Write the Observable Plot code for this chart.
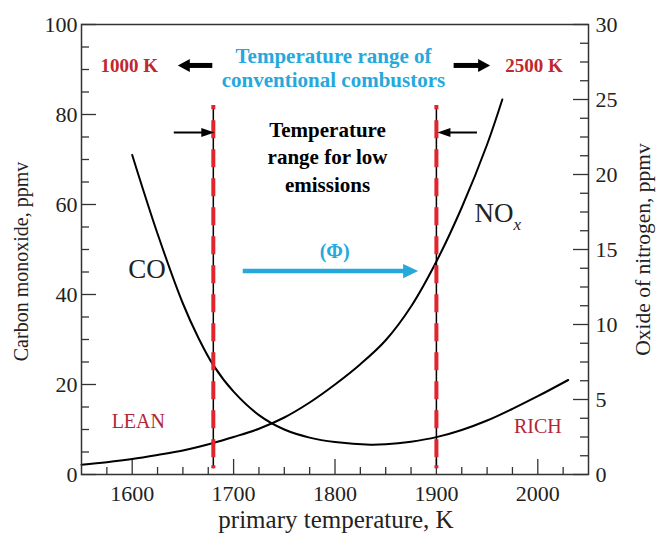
<!DOCTYPE html>
<html><head><meta charset="utf-8">
<script src="https://cdn.jsdelivr.net/npm/d3@7"></script>
<script src="https://cdn.jsdelivr.net/npm/@observablehq/plot@0.6"></script>
<style>
html,body{margin:0;padding:0;background:#fff;}
#chart{width:656px;height:537px;overflow:hidden;}
</style></head><body><div id="chart"></div>
<script>
// ---- data ----
const coTemps = [1600,1625,1650,1665,1680,1700,1725,1750,1775,1800,1835,1850,1875,1900,1925,1950,1975,2000,2030];
const coValues = [71,53.5,38,30.5,24.3,18.4,13.2,10,8.2,7.2,6.6,6.7,7.3,8.3,9.9,12,14.6,17.4,21];
const noxTemps = [1550,1575,1600,1625,1650,1680,1700,1725,1750,1775,1800,1825,1850,1875,1900,1925,1950,1965];
const noxValues = [0.65,0.82,1.03,1.3,1.6,2.1,2.5,3.05,3.8,4.8,6.0,7.35,8.95,11.2,14.2,17.8,22.0,25];
const lowEmissionBounds = [1680, 1900];

const xMajor = [1600,1700,1800,1900,2000];
const xMinor = [1575,1625,1650,1675,1725,1750,1775,1825,1850,1875,1925,1950,1975,2025];
const yLeftMajor = [0,20,40,60,80,100];
const yLeftMinor = [5,10,15,25,30,35,45,50,55,65,70,75,85,90,95];
const yRightMajor = [0,5,10,15,20,25,30];
const yRightMinor = [1.25,2.5,3.75,6.25,7.5,8.75,11.25,12.5,13.75,16.25,17.5,18.75,21.25,22.5,23.75,26.25,27.5,28.75];

const leftTitle = "Carbon monoxide, ppmv";
const rightTitle = "Oxide of nitrogen, ppmv";
const xTitle = "primary temperature, K";

// annotations (temperature, CO-scale value)
const limitLabels = [{t:"1000 K", x:1568.7, y:90.7}, {t:"2500 K", x:1968, y:90.7}];
const conventionalLines = [{t:"Temperature range of", y:93.0}, {t:"conventional combustors", y:87.6}];
const lowLines = [{t:"Temperature", y:76.5}, {t:"range for low", y:70.5}, {t:"emissions", y:64.3}];
const bigArrows = [{tail:1679, tip:1645, y:90.9, dir:-1}, {tail:1917, tip:1953, y:90.9, dir:1}];
const smallArrows = [{tail:1641, tip:1681, y:76, dir:1}, {tail:1940, tip:1901, y:76, dir:-1}];
const phiArrow = [{tail:1709, tip:1882, y:45.2, dir:1}];
const curveLabels = [{t:"CO", x:1614.6, y:45.6}];
const regimeLabels = [{t:"LEAN", x:1606, y:11.8}, {t:"RICH", x:2000, y:10.7}];

const toLeft = v => v * 100 / 30;
const co = coTemps.map((t,i) => ({t, v: coValues[i]}));
const nox = noxTemps.map((t,i) => ({t, v: noxValues[i]}));

const red = "#c1272d", dashRed = "#e2252c", blue = "#27a8dc", regimeRed = "#b3263a";
const serif = "Liberation Serif, Times New Roman, serif";

// geometry helpers (pixel sizes -> data units)
const W = 656, H = 537, mL = 81, mR = 68, mT = 24, mB = 63;
const xDomain = [1550, 2050], yDomain = [0, 100];
const kx = (xDomain[1] - xDomain[0]) / (W - mL - mR);
const ky = (yDomain[1] - yDomain[0]) / (H - mT - mB);

// arrowhead symbol: tip at origin, pointing up; r = head length in px
const headShape = (half) => ({draw(ctx, size) {
  const r = Math.sqrt(size / Math.PI);
  ctx.moveTo(0, 0); ctx.lineTo(r * half, r); ctx.lineTo(-r * half, r); ctx.closePath();
}});
const wideHead = headShape(0.54), narrowHead = headShape(0.34), blueHead = headShape(0.47);
const shaftEnd = (len) => d => d.tip - d.dir * (len - 3) * kx;

const tickMarks = (vals, len, axis) => axis === "x"
  ? Plot.ruleX(vals, {y1: yDomain[0], y2: yDomain[0] + len * ky, stroke: "#333", strokeWidth: 1.3})
  : axis === "left"
  ? Plot.ruleY(vals, {x1: xDomain[0], x2: xDomain[0] + len * kx, stroke: "#333", strokeWidth: 1.3})
  : Plot.ruleY(vals, {x1: xDomain[1], x2: xDomain[1] - len * kx, stroke: "#333", strokeWidth: 1.3});

const chart = Plot.plot({
  width: W, height: H,
  marginLeft: mL, marginRight: mR, marginTop: mT, marginBottom: mB,
  x: {domain: xDomain},
  y: {domain: yDomain},
  style: {fontFamily: serif, fontSize: "22px", color: "#222", background: "white", overflow: "visible"},
  marks: [
    // axes labels
    Plot.axisX(xMajor, {tickSize: 0, tickPadding: 11, fontSize: 22, tickFormat: d => String(d), label: null}),
    Plot.axisY(yLeftMajor, {tickSize: 0, tickPadding: 4, fontSize: 22, tickFormat: d => String(d), label: null}),
    Plot.axisY(yRightMajor.map(toLeft), {anchor: "right", tickSize: 0, tickPadding: 7, fontSize: 22, tickFormat: v => String(Math.round(v * 30 / 100)), label: null}),
    // inward ticks
    tickMarks(xMajor, 15, "x"), tickMarks(xMinor, 7, "x"),
    tickMarks(yLeftMajor, 15, "left"), tickMarks(yLeftMinor, 8, "left"),
    tickMarks(yRightMajor.map(toLeft), 15, "right"), tickMarks(yRightMinor.map(toLeft), 8, "right"),
    // titles
    Plot.text([leftTitle], {frameAnchor: "left", textAnchor: "middle", rotate: -90, dx: -60, dy: 12, fontSize: 20, fill: "#222"}),
    Plot.text([rightTitle], {frameAnchor: "right", textAnchor: "middle", rotate: -90, dx: 55, dy: 0, fontSize: 21.5, fill: "#222"}),
    Plot.text([xTitle], {frameAnchor: "bottom", textAnchor: "middle", dy: 53.5, dx: 1, fontSize: 25, fill: "#222"}),
    // curves
    Plot.line(co, {x: "t", y: "v", curve: "catmull-rom", stroke: "black", strokeWidth: 2}),
    Plot.line(nox, {x: "t", y: d => toLeft(d.v), curve: "catmull-rom", stroke: "black", strokeWidth: 2}),
    // low-emission bounds
    Plot.ruleX(lowEmissionBounds, {y1: 1.3, y2: 82, stroke: "black", strokeWidth: 1.5}),
    Plot.ruleX(lowEmissionBounds, {y1: 1.3, y2: 82, stroke: dashRed, strokeWidth: 4, strokeDasharray: "3,8,18,11,18,11,18,11,18,11,18,11,18,11,18,11,18,11,18,11,18,11,18,11,18,11,18,11,18,11,18,11"}),
    // arrows
    Plot.link(bigArrows, {x1: "tail", x2: shaftEnd(12), y1: "y", y2: "y", stroke: "black", strokeWidth: 5}),
    Plot.dot(bigArrows, {x: "tip", y: "y", symbol: wideHead, r: 12, fill: "black", stroke: null, rotate: d => d.dir * 90}),
    Plot.link(smallArrows, {x1: "tail", x2: shaftEnd(13), y1: "y", y2: "y", stroke: "black", strokeWidth: 2}),
    Plot.dot(smallArrows, {x: "tip", y: "y", symbol: narrowHead, r: 13, fill: "black", stroke: null, rotate: d => d.dir * 90}),
    Plot.link(phiArrow, {x1: "tail", x2: shaftEnd(15), y1: "y", y2: "y", stroke: blue, strokeWidth: 4.5}),
    Plot.dot(phiArrow, {x: "tip", y: "y", symbol: blueHead, r: 15, fill: blue, stroke: null, rotate: 90}),
    // text annotations
    Plot.text(limitLabels, {x: "x", y: "y", text: "t", textAnchor: "start", fontSize: 19, fontWeight: "bold", fill: red}),
    Plot.text(conventionalLines, {x: 1798.5, y: "y", text: "t", fontSize: 21, fontWeight: "bold", fill: blue}),
    Plot.text(lowLines, {x: 1792.6, y: "y", text: "t", fontSize: 21, fontWeight: "bold", fill: "black"}),
    Plot.text(["(Φ)"], {x: 1799.6, y: 49.6, fontSize: 20, fontWeight: "bold", fill: blue}),
    Plot.text(curveLabels, {x: "x", y: "y", text: "t", fontSize: 27, fill: "#222"}),
    Plot.text(["NO"], {x: 1937.6, y: 58, textAnchor: "start", fontSize: 27, fill: "#222"}),
    Plot.text(["x"], {x: 1976, y: 55.6, textAnchor: "start", fontSize: 17, fontStyle: "italic", fill: "#222"}),
    Plot.text(regimeLabels, {x: "x", y: "y", text: "t", fontSize: 20, fill: regimeRed}),
    Plot.frame({stroke: "#333", strokeWidth: 1.5})
  ]
});
document.getElementById("chart").appendChild(chart);
</script>
</body></html>
